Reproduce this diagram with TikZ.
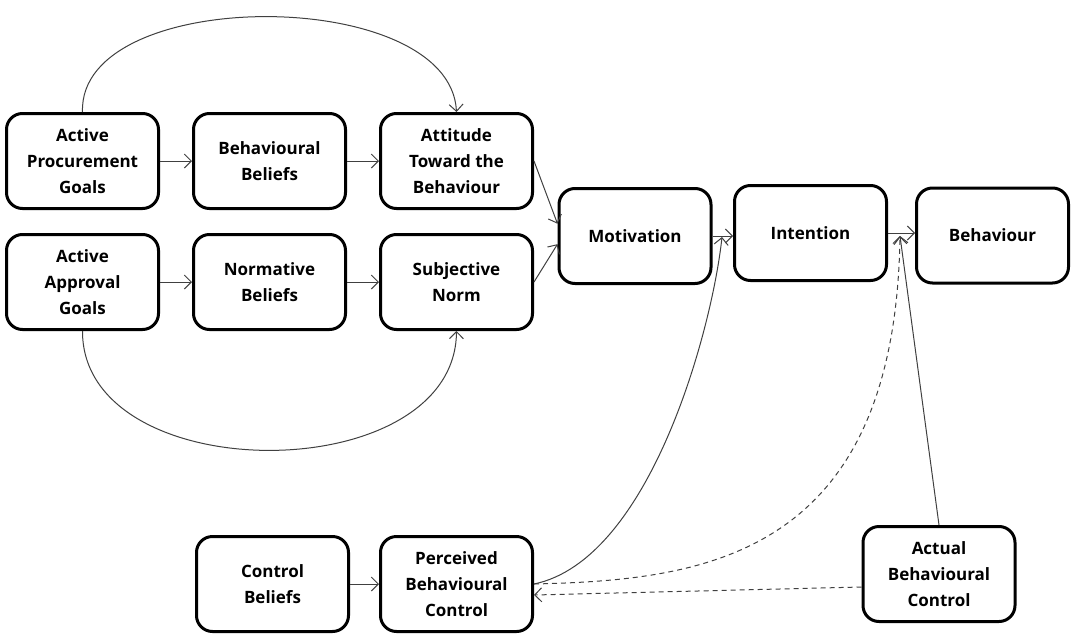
\documentclass[tikz,border=0pt]{standalone}
\usepackage{fontspec}
\setmainfont{Open Sans}
\usetikzlibrary{arrows.meta}
\definecolor{Linea}{HTML}{404040}

\begin{document}
\begin{tikzpicture}[x=1pt,y=-1pt,
  box/.style={draw,line width=3pt,rounded corners=16pt,minimum width=152pt,minimum height=95pt,
    align=center,font=\fontsize{17}{26}\selectfont\bfseries},
  link/.style={Linea,line width=1pt,-{Straight Barb[length=7pt,width=14pt]}},
  guess/.style={link,dash pattern=on 5pt off 4pt}]
\useasboundingbox (0,0) rectangle (1072,635);
% boxes
\node[box] (apg) at (82.5,161) {Active\\Procurement\\Goals};
\node[box] (bb) at (269.5,161) {Behavioural\\Beliefs};
\node[box] (att) at (456.5,161) {Attitude\\Toward the\\Behaviour};
\node[box] (aag) at (82.5,282) {Active\\Approval\\Goals};
\node[box] (nb) at (269.5,282) {Normative\\Beliefs};
\node[box] (sn) at (456.5,282) {Subjective\\Norm};
\node[box] (mot) at (635,236) {Motivation};
\node[box] (int) at (810.5,233) {Intention};
\node[box] (beh) at (992.5,235.5) {Behaviour};
\node[box] (cb) at (272.5,584) {Control\\Beliefs};
\node[box] (pbc) at (456.5,584) {Perceived\\Behavioural\\Control};
\node[box] (abc) at (939,574) {Actual\\Behavioural\\Control};
\coordinate (mi) at (722,237);
\coordinate (ib) at (900,236);
% arrows
\draw[link] (apg) -- (bb);
\draw[link] (bb) -- (att);
\draw[link] (aag) -- (nb);
\draw[link] (nb) -- (sn);
\draw[link] (att.east) -- (mot.171);
\draw[link] (sn.east) -- (mot.186);
\draw[link] (mot.east) -- (mot.east -| int.west);
\draw[link] (int.east) -- (int.east -| beh.west);
\draw[link] (cb) -- (pbc);
\draw[link] (apg.north) .. controls (78,-15) and (450,-15) .. (att.north);
\draw[link] (aag.south) .. controls (82,490) and (455,490) .. (sn.south);
\draw[link] (pbc.east) .. controls (650,560) and (712,330) .. (mi);
\draw[guess] (pbc.east) .. controls (700,580) and (895,560) .. (ib);
\draw[link] (abc.north) -- (ib);
\draw[guess] ([yshift=-13pt]abc.west) -- ([yshift=-11pt]pbc.east);
\end{tikzpicture}
\end{document}
